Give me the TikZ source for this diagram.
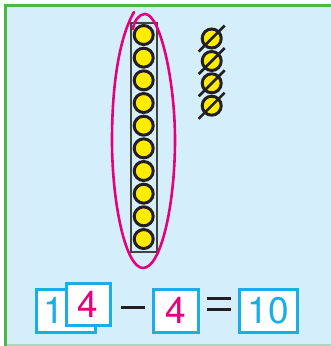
\documentclass[tikz,border=0pt]{standalone}
\usepackage{fontspec}
\setmainfont{TeX Gyre Heros}
\definecolor{bgblue}{HTML}{D5EEFB}
\definecolor{frame}{HTML}{4DB54A}
\definecolor{framelight}{HTML}{A9D9B9}
\definecolor{bead}{HTML}{FFEC00}
\definecolor{ink}{HTML}{231F20}
\definecolor{pink}{HTML}{E5007E}
\definecolor{cyanb}{HTML}{19AEE6}
\tikzset{
  beadc/.style={circle, draw=ink, fill=bead, line width=3pt, minimum size=19pt, inner sep=0pt},
  card/.style={draw=cyanb, fill=white, line width=3pt, inner sep=0pt, text height=26pt, text depth=0pt,
     font=\fontsize{37}{40}\selectfont},
  digit/.style={inner sep=0pt, text height=26pt, text depth=0pt, font=\fontsize{37}{40}\selectfont},
  sign/.style={draw=ink, line width=3pt},
}
\begin{document}
\begin{tikzpicture}[x=1pt,y=-1pt]
\useasboundingbox (0,0) rectangle (331,346);
% background
\fill[bgblue] (5,5) rectangle (331,344);
\fill[framelight] (5,344) rectangle (331,346);
\draw[frame, line width=3pt] (5,346) -- (5,5) -- (331,5);
% ten-rod
\node[draw=ink!85, line width=2.4pt, minimum width=26pt, minimum height=229pt, inner sep=0pt] (rod) at (143.7,137.3) {};
\foreach \i in {0,...,9} {
  \node[beadc] (b\i) at (143.7,{35+\i*22.67}) {};
}
% loose beads, crossed out
\foreach \i/\y in {1/38.5,2/61,3/83.3,4/105.7} {
  \node[beadc] (c\i) at (211.7,\y) {};
  \draw[ink, line width=2.6pt] ([shift={(-13,13)}]c\i.center) -- ([shift={(13,-13)}]c\i.center);
}
% hand drawn loop
\draw[pink, line width=2.6pt, line cap=round]
  (134,12) .. controls (118,40) and (112,90) .. (112,140)
  .. controls (112,205) and (126,268) .. (143,268)
  .. controls (161,268) and (175,205) .. (175,140)
  .. controls (175,80) and (160,14) .. (145,14)
  .. controls (139,14) and (134,21) .. (133,29);
% equation
\node[card, minimum width=59pt, minimum height=43pt] (n14) at (65.5,310.5) {};
\node[digit, text=cyanb] (one) at (54,310.5) {1};
\node[card, text=pink, minimum width=44pt, minimum height=42pt] (p4) at (88,304) {4};
\coordinate (m1) at (121,307);
\coordinate (m2) at (145,307);
\draw[sign] (m1) -- (m2);
\node[card, text=pink, minimum width=44.6pt, minimum height=43pt] (s4) at (176,310.5) {4};
\coordinate (e1) at (207,298.5);
\coordinate (e2) at (231,298.5);
\coordinate (e3) at (207,309);
\coordinate (e4) at (231,309);
\draw[sign] (e1) -- (e2);
\draw[sign] (e3) -- (e4);
\node[card, text=cyanb, minimum width=58pt, minimum height=43pt] (r10) at (268,310.5) {10};
\end{tikzpicture}
\end{document}
